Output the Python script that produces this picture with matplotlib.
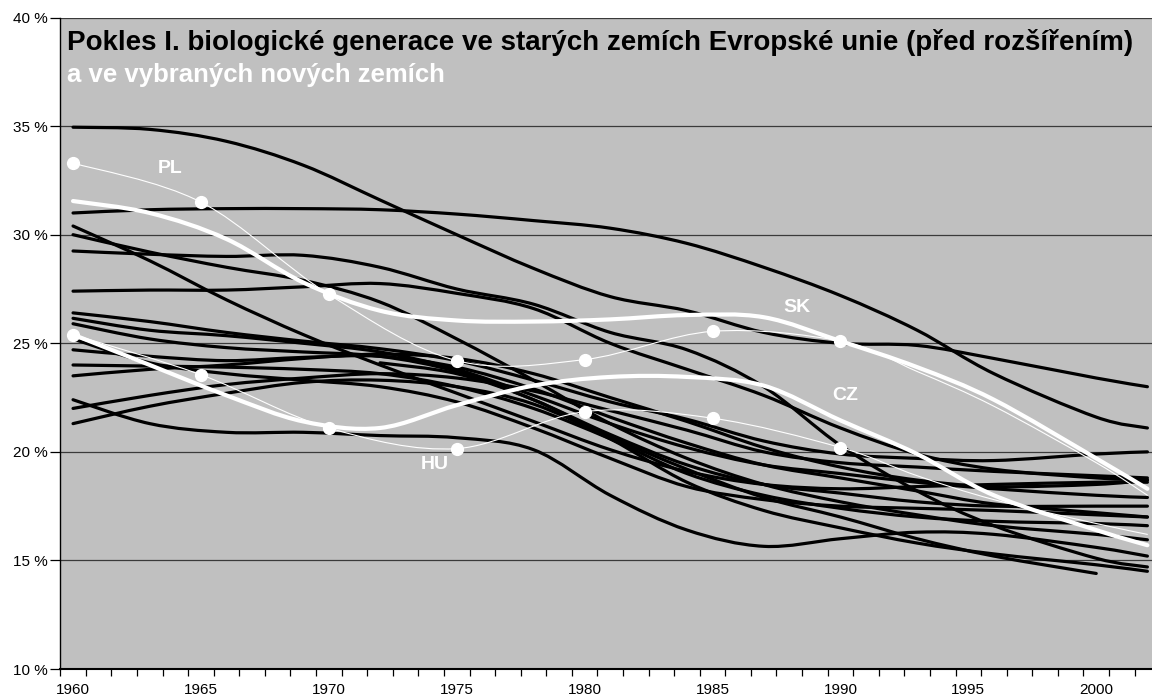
import numpy as np
import matplotlib
matplotlib.use("Agg")
import matplotlib.pyplot as plt
from matplotlib.path import Path
from matplotlib.patches import PathPatch
from matplotlib.ticker import FixedLocator, FuncFormatter

plt.rcParams["font.family"] = ["Liberation Sans", "DejaVu Sans"]

# share of the 1st biological generation (%)
years = [1960, 1963, 1966, 1969, 1972, 1975, 1978, 1981, 1984, 1987, 1990, 1993, 1996, 2000, 2002]

nan = float("nan")
old_eu = [
    [34.95, 34.85, 34.3, 33.2, 31.6, 30.0, 28.45, 27.15, 26.5, 25.5, 25.0, 24.9, 24.3, 23.4, 23.0],
    [31.0, 31.15, 31.2, 31.2, 31.15, 30.95, 30.65, 30.3, 29.6, 28.5, 27.2, 25.6, 23.6, 21.6, 21.1],
    [30.4, 28.8, 27.0, 25.4, 24.0, 22.7, 21.4, 20.1, 19.1, 18.5, 18.3, 18.4, 18.5, 18.6, 18.6],
    [30.0, 29.2, 28.5, 27.9, 26.9, 25.2, 23.3, 21.3, 19.7, 18.5, 17.7, 17.1, 16.6, 16.2, 15.95],
    [29.25, 29.1, 29.0, 29.05, 28.5, 27.5, 26.8, 25.5, 24.7, 23.0, 20.3, 18.2, 16.6, 15.1, 14.7],
    [27.4, 27.45, 27.45, 27.6, 27.75, 27.3, 26.6, 25.0, 23.8, 22.6, 21.1, 19.9, 19.2, 18.8, 18.7],
    [26.4, 26.0, 25.5, 25.1, 24.75, 24.2, 23.3, 22.3, 21.5, 20.5, 19.9, 19.7, 19.6, 19.9, 20.0],
    [26.15, 25.6, 25.35, 25.0, 24.6, 23.8, 22.6, 21.3, 20.2, 19.4, 19.0, 18.6, 18.3, 18.0, 17.9],
    [25.9, 25.2, 24.8, 24.6, 24.4, 23.7, 22.4, 20.8, 19.4, 18.5, 18.1, 17.7, 17.5, 17.5, 17.5],
    [25.2, 24.1, 23.6, 23.3, 23.0, 22.3, 21.1, 19.7, 18.4, 17.8, 17.5, 17.4, 17.3, 17.1, 17.0],
    [24.7, 24.4, 24.2, 24.35, 24.4, 23.9, 22.9, 21.6, 20.4, 19.4, 18.8, 18.2, 17.6, 17.2, 17.0],
    [24.0, 23.95, 23.9, 23.8, 23.6, 23.0, 22.0, 20.6, 19.0, 18.0, 17.4, 17.0, 16.8, 16.7, 16.6],
    [23.5, 23.8, 24.0, 24.3, 24.5, 24.3, 23.6, 22.5, 21.4, 20.2, 19.3, 18.7, 18.4, 18.5, 18.7],
    [22.4, 21.3, 20.9, 20.9, 20.75, 20.65, 20.1, 18.0, 16.4, 15.65, 16.0, 16.3, 16.2, 15.6, 15.2],
    [22.0, 22.6, 23.1, 23.4, 23.6, 23.4, 22.8, 21.9, 21.0, 20.0, 19.5, 19.3, 19.1, 18.9, 18.8],
    [21.3, 22.1, 22.7, 23.2, 23.3, 23.0, 22.2, 20.6, 18.6, 17.3, 16.5, 15.8, 15.3, 14.8, 14.5],
    [nan, nan, nan, nan, 24.1, 23.6, 22.4, 20.7, 19.2, 17.9, 17.0, 16.0, 15.2, 14.4, nan],
]

sk = [31.55, 31.0, 29.8, 27.8, 26.5, 26.05, 26.0, 26.1, 26.3, 26.2, 25.1, 23.9, 22.4, 19.7, 18.3]
cz = [25.4, 24.0, 22.6, 21.4, 21.1, 22.15, 23.05, 23.45, 23.45, 23.05, 21.45, 19.9, 18.0, 16.4, 15.7]

marked_years = [1960, 1965, 1970, 1975, 1980, 1985, 1990, 1993, 1996, 2000, 2002]
pl = [33.3, 31.5, 27.25, 24.2, 24.25, 25.55, 25.1, 23.7, 22.1, 19.5, 18.0]
hu = [25.4, 23.55, 21.1, 20.15, 21.85, 21.55, 20.2, 18.9, 17.8, 16.7, 16.2]
n_marked = 7  # markers only on the five-year points

labels = {"PL": (1963.8, 33.07), "SK": (1988.3, 26.63), "CZ": (1990.2, 22.6), "HU": (1974.15, 19.4)}

title1 = "Pokles I. biologické generace ve starých zemích Evropské unie (před rozšířením)"
title2 = "a ve vybraných nových zemích"


def smooth_path(xs, ys):
    """Bezier path through the points, like a spreadsheet 'smoothed line'."""
    p = np.array([(x, y) for x, y in zip(xs, ys) if not np.isnan(y)], dtype=float)
    n = len(p)
    verts, codes = [p[0]], [Path.MOVETO]
    for i in range(n - 1):
        prev = p[i - 1] if i > 0 else p[i]
        nxt = p[i + 2] if i + 2 < n else p[i + 1]
        c1 = p[i] + (p[i + 1] - prev) / 6.0
        c2 = p[i + 1] - (nxt - p[i]) / 6.0
        verts += [c1, c2, p[i + 1]]
        codes += [Path.CURVE4] * 3
    return Path(verts, codes)


def add_line(ax, xs, ys, color, lw, z):
    patch = PathPatch(smooth_path(xs, ys), fill=False, edgecolor=color, lw=lw,
                      capstyle="round", joinstyle="round", zorder=z)
    ax.add_patch(patch)


fig = plt.figure(figsize=(11.52, 6.99), dpi=100)
ax = fig.add_axes([0.0523, 0.0429, 0.9477, 0.932])
ax.set_facecolor("#c0c0c0")

for series in old_eu:
    add_line(ax, years, series, "black", 2.3, 3)

add_line(ax, years, sk, "white", 3.0, 5)
add_line(ax, years, cz, "white", 3.0, 5)
add_line(ax, marked_years, pl, "white", 0.8, 4)
add_line(ax, marked_years, hu, "white", 0.8, 4)
ax.plot(marked_years[:n_marked], pl[:n_marked], "o", color="white", ms=8.5, zorder=6)
ax.plot(marked_years[:n_marked], hu[:n_marked], "o", color="white", ms=8.5, zorder=6)

for name, (x, y) in labels.items():
    ax.text(x, y, name, color="white", fontsize=14, fontweight="bold",
            ha="center", va="center", zorder=7)

ax.text(0.0061, 0.950, title1, transform=ax.transAxes, fontsize=20,
        fontweight="bold", color="black", va="baseline", zorder=8)
ax.text(0.0061, 0.901, title2, transform=ax.transAxes, fontsize=18.5,
        fontweight="bold", color="white", va="baseline", zorder=8)

ax.set_xlim(1959.5, 2002.18)
ax.set_ylim(10, 40)

ax.xaxis.set_major_locator(FixedLocator(list(range(1960, 2001, 5))))
ax.xaxis.set_minor_locator(FixedLocator([1959.5 + k for k in range(44)]))
ax.tick_params(axis="x", which="major", length=0, pad=10, labelsize=11)
ax.tick_params(axis="x", which="minor", length=5, width=0.9, direction="out")

ax.yaxis.set_major_locator(FixedLocator(list(range(10, 41, 5))))
ax.yaxis.set_major_formatter(FuncFormatter(lambda v, _: f"{int(v)} %"))
ax.tick_params(axis="y", length=7, width=0.9, pad=2, labelsize=11)

ax.yaxis.grid(True, color="#3a3a3a", lw=0.9)
ax.set_axisbelow(True)

for side in ("top", "right"):
    ax.spines[side].set_visible(False)
ax.spines["left"].set_linewidth(1.0)
ax.spines["bottom"].set_linewidth(1.5)

fig.savefig("out.png", dpi=100)
